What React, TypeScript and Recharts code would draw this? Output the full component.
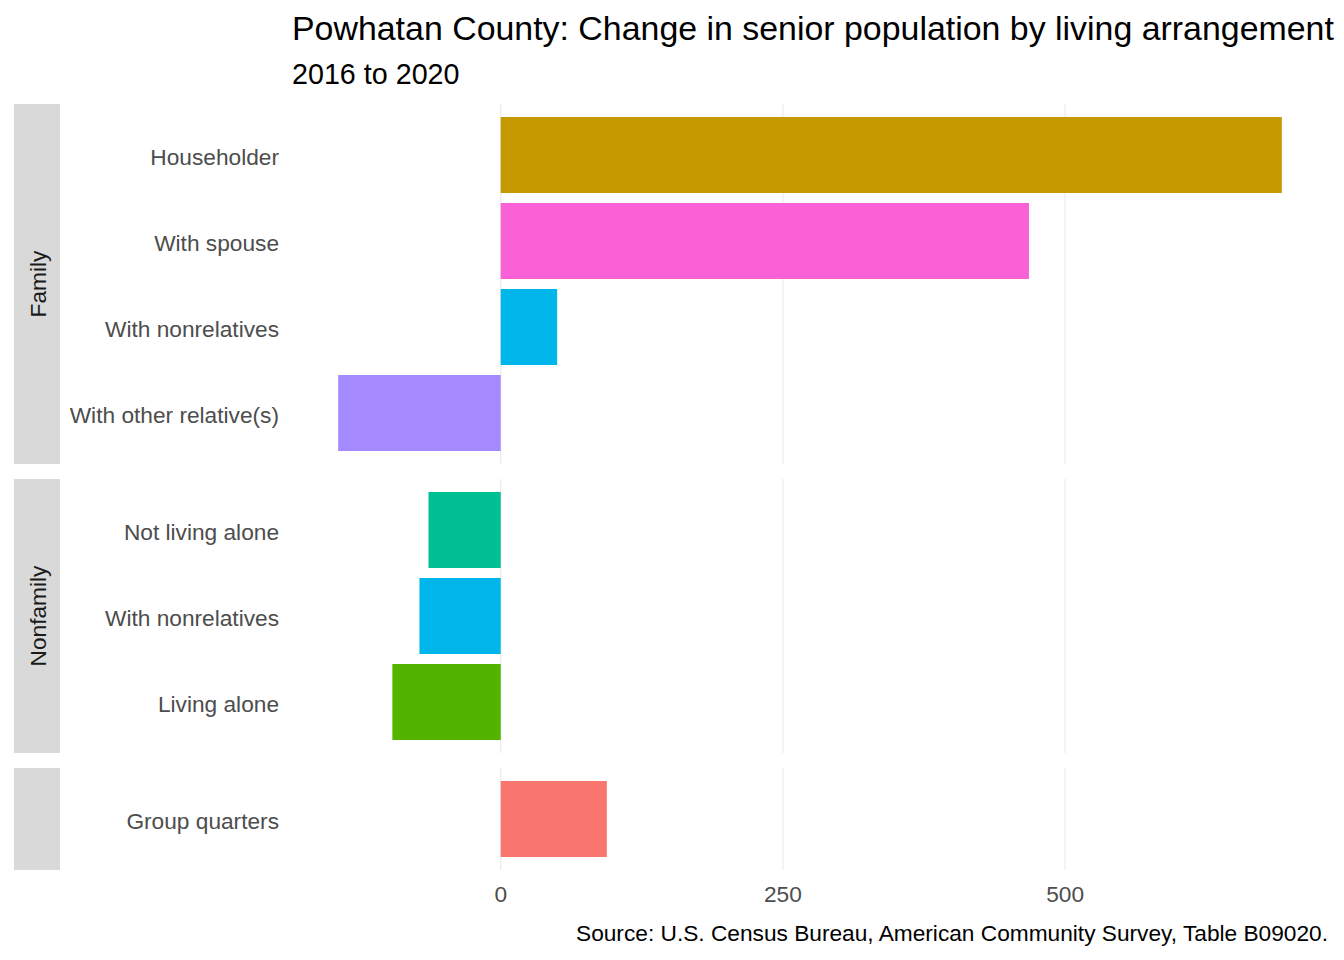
import React from "react";
import { BarChart, Bar, XAxis, YAxis, CartesianGrid, Cell } from "recharts";

const familyLabels = ["Householder", "With spouse", "With nonrelatives", "With other relative(s)"];
const familyValues = [692, 468, 50, -144];
const nonfamilyLabels = ["Not living alone", "With nonrelatives", "Living alone"];
const nonfamilyValues = [-64, -72, -96];
const groupLabels = ["Group quarters"];
const groupValues = [94];
const xTicks = [0, 250, 500];

const familyColors = ["#C49A00", "#FB61D7", "#00B6EB", "#A58AFF"];
const nonfamilyColors = ["#00C094", "#00B6EB", "#53B400"];
const groupColors = ["#F8766D"];

const FONT = "'Liberation Sans', Arial, sans-serif";
const TXT = 22.7;
const DOMAIN: [number, number] = [-185.8, 733.8];
const W = 1344;

const toRows = (labels: string[], values: number[]) =>
  labels.map((label, i) => ({ label, value: values[i] }));

// grid lines only at the tick values, placed through the x axis scale
const gridAtTicks = ({ xAxis, offset }: any) => {
  const s = xAxis && xAxis.scale;
  if (typeof s === "function") return xTicks.map((t) => s(t));
  if (s && typeof s.map === "function") return xTicks.map((t) => s.map(t));
  if (s && typeof s.apply === "function") return xTicks.map((t) => s.apply(t));
  const [d0, d1] = DOMAIN;
  return xTicks.map((t) => offset.left + ((t - d0) / (d1 - d0)) * offset.width);
};

type PanelProps = {
  top: number;
  height: number;
  labels: string[];
  values: number[];
  colors: string[];
  showAxis?: boolean;
};

const Panel = ({ top, height, labels, values, colors, showAxis }: PanelProps) => {
  const axisH = showAxis ? 44 : 0;
  return (
    <div style={{ position: "absolute", left: 0, top }}>
      <BarChart
        width={W}
        height={height + axisH}
        data={toRows(labels, values)}
        layout="vertical"
        margin={{ top: 0, right: 15, bottom: 0, left: 0 }}
      >
        <CartesianGrid
          horizontal={false}
          stroke="#EBEBEB"
          strokeWidth={1.2}
          verticalCoordinatesGenerator={gridAtTicks}
        />
        <XAxis
          type="number"
          domain={DOMAIN}
          ticks={xTicks}
          allowDataOverflow
          height={axisH}
          axisLine={false}
          tickLine={false}
          tickSize={0}
          tickMargin={16}
          tick={showAxis ? { fill: "#4D4D4D", fontSize: TXT, fontFamily: FONT } : false}
        />
        <YAxis
          type="category"
          dataKey="label"
          width={291}
          axisLine={false}
          tickLine={false}
          tickSize={0}
          tickMargin={12}
          padding={{ top: 8, bottom: 8 }}
          tick={{ fill: "#4D4D4D", fontSize: TXT, fontFamily: FONT, dy: 2 }}
          interval={0}
        />
        <Bar dataKey="value" barSize={76} isAnimationActive={false}>
          {labels.map((l, i) => (
            <Cell key={l + i} fill={colors[i]} />
          ))}
        </Bar>
      </BarChart>
    </div>
  );
};

export default function App() {
  return (
    <div
      style={{
        position: "absolute",
        left: 0,
        top: 0,
        width: W,
        height: 960,
        background: "#fff",
        fontFamily: FONT,
      }}
    >
      <Panel top={104} height={360} labels={familyLabels} values={familyValues} colors={familyColors} />
      <Panel top={479} height={274} labels={nonfamilyLabels} values={nonfamilyValues} colors={nonfamilyColors} />
      <Panel top={768} height={102} labels={groupLabels} values={groupValues} colors={groupColors} showAxis />
      <svg
        width={W}
        height={960}
        style={{ position: "absolute", left: 0, top: 0, pointerEvents: "none" }}
      >
        <text x={292} y={40} fontSize={33.9} fill="#000" fontFamily={FONT}>
          Powhatan County: Change in senior population by living arrangement
        </text>
        <text x={292} y={84} fontSize={28.7} fill="#000" fontFamily={FONT}>
          2016 to 2020
        </text>
        <rect x={14} y={104} width={46} height={360} fill="#D9D9D9" />
        <rect x={14} y={479} width={46} height={274} fill="#D9D9D9" />
        <rect x={14} y={768} width={46} height={102} fill="#D9D9D9" />
        <text
          transform="translate(46,284) rotate(-90)"
          textAnchor="middle"
          fontSize={TXT}
          fill="#1A1A1A"
          fontFamily={FONT}
        >
          Family
        </text>
        <text
          transform="translate(46,616) rotate(-90)"
          textAnchor="middle"
          fontSize={TXT}
          fill="#1A1A1A"
          fontFamily={FONT}
        >
          Nonfamily
        </text>
        <text x={1328} y={941} textAnchor="end" fontSize={TXT} fill="#000" fontFamily={FONT}>
          Source: U.S. Census Bureau, American Community Survey, Table B09020.
        </text>
      </svg>
    </div>
  );
}
